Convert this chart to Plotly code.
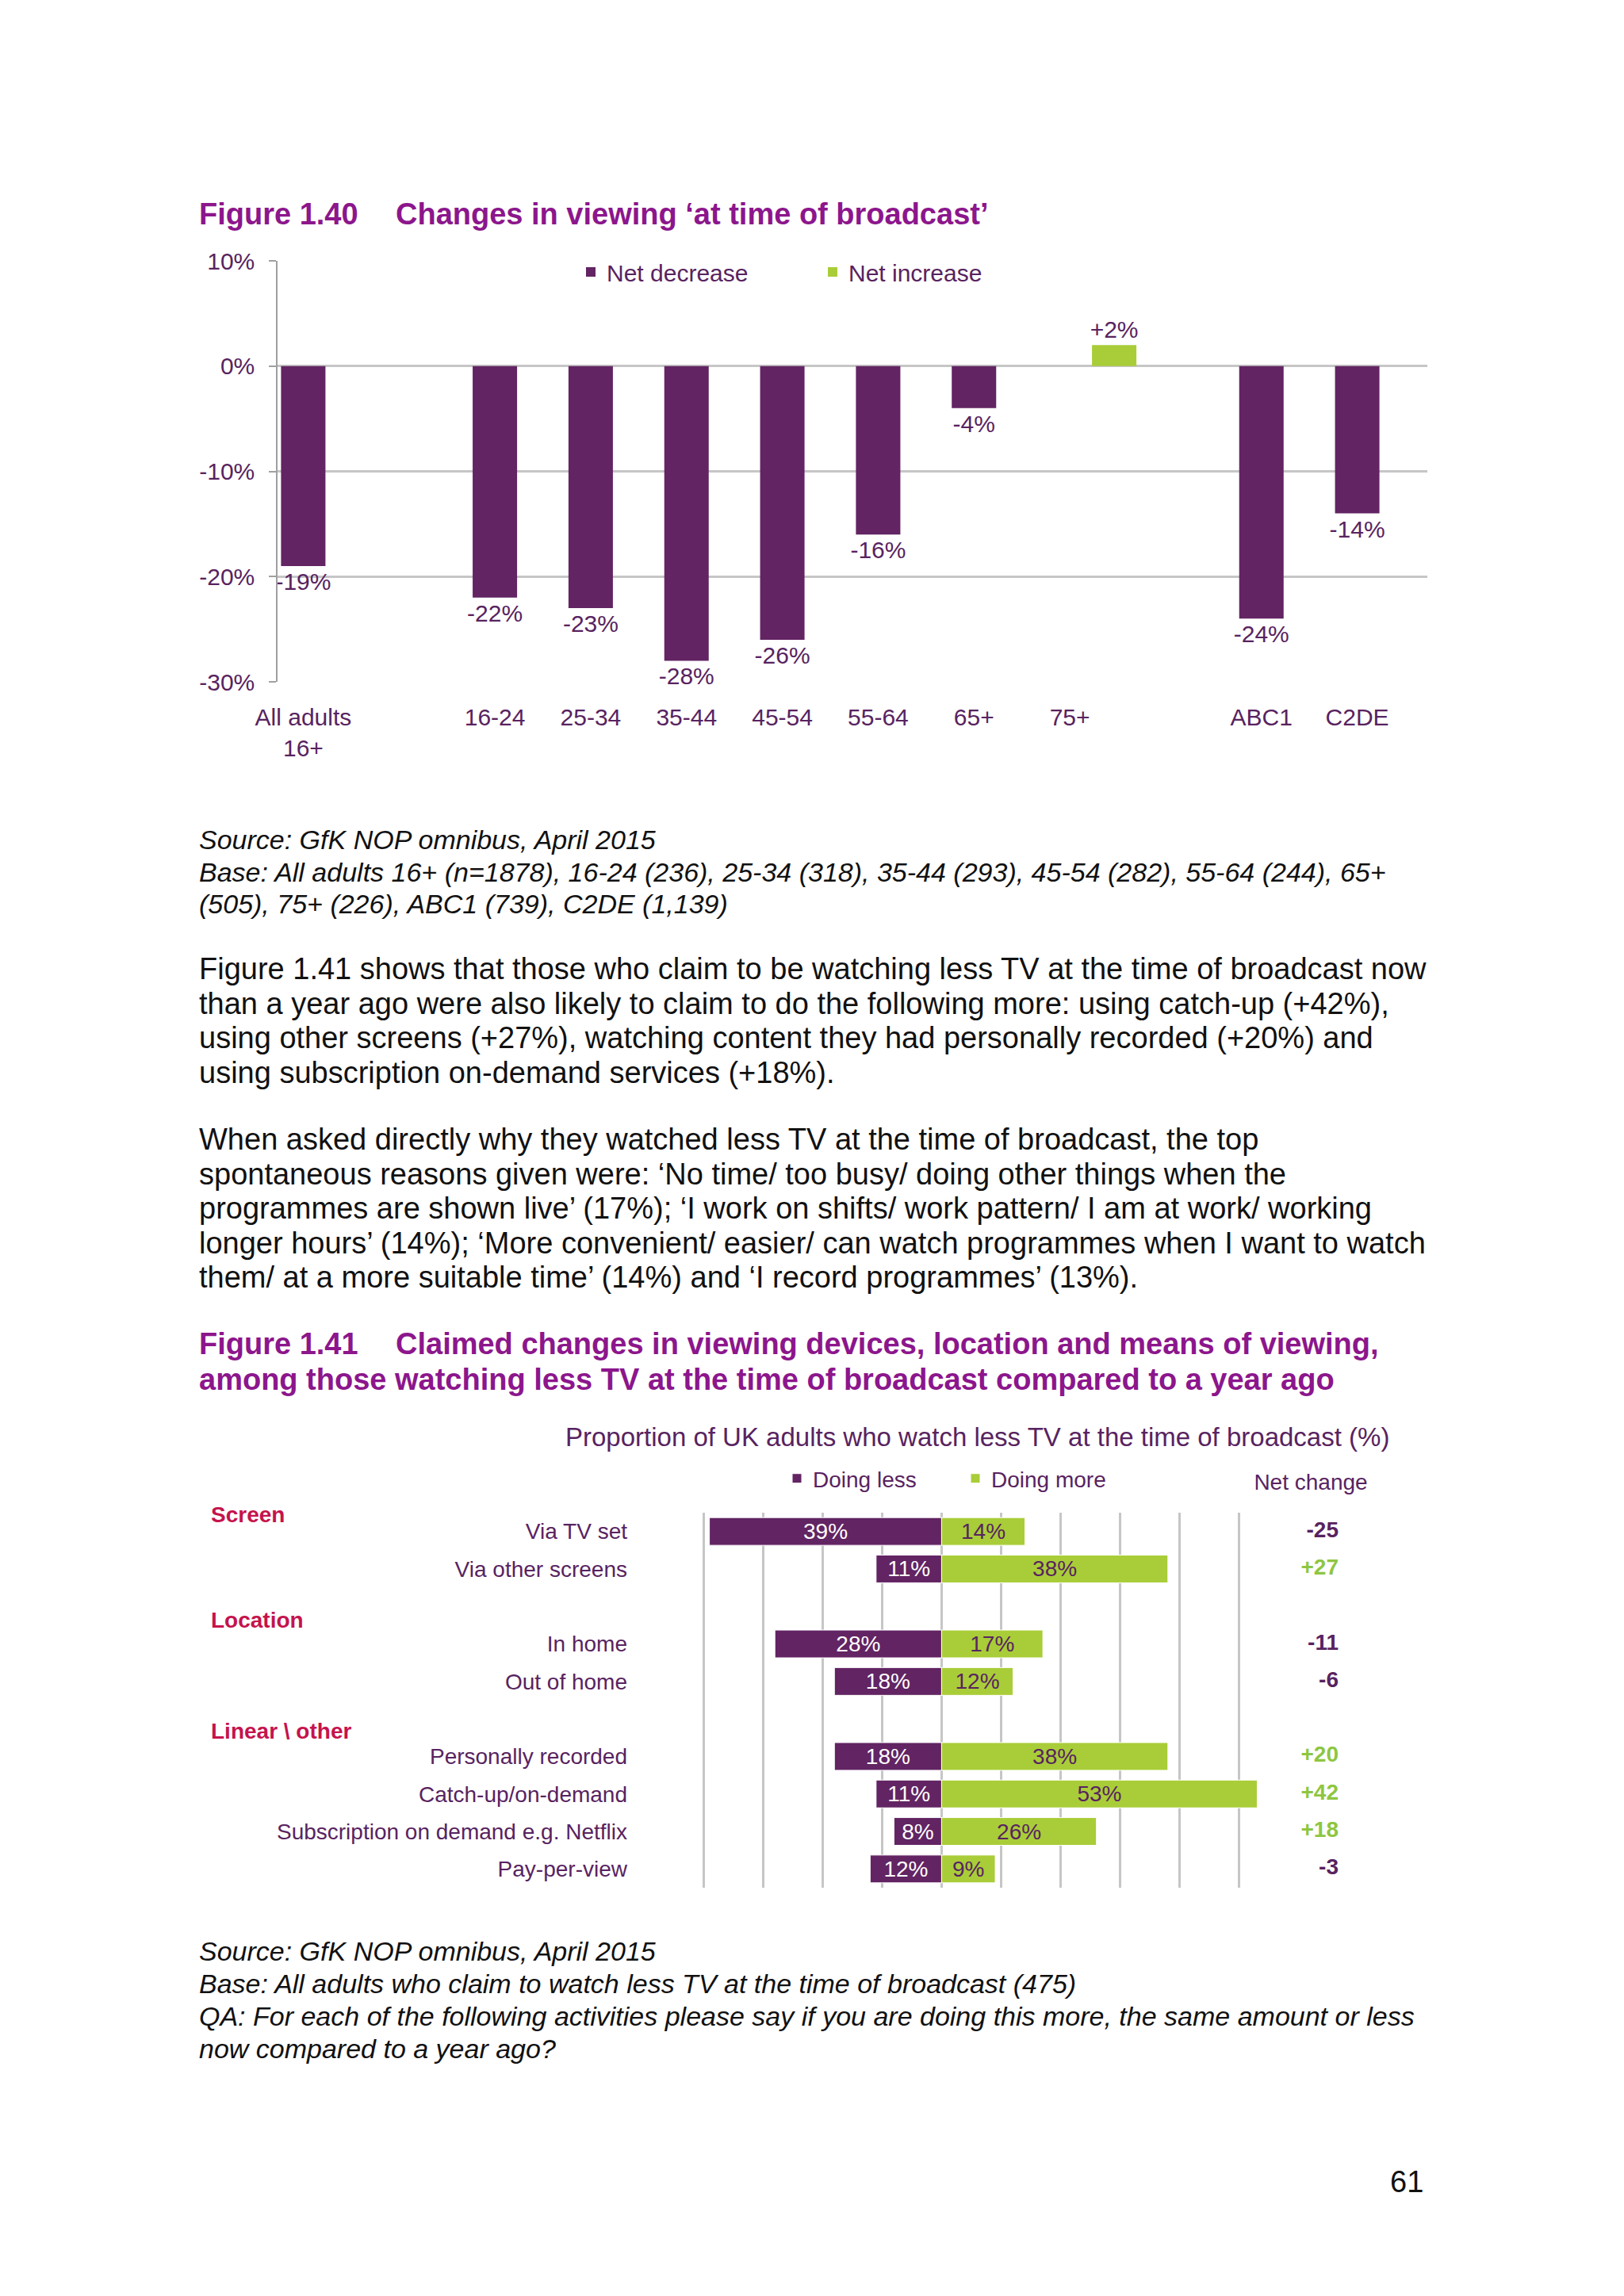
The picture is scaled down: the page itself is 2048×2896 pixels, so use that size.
import plotly.graph_objects as go

W, H = 2048, 2896


def fx(px):
    return px / W


def fy(py):
    return 1 - py / H


FONT = "Liberation Sans, Arial, sans-serif"
PURPLE = "#622463"
GREEN = "#a9cd38"
TXT = "#582360"
TITLE = "#8c168c"
RED = "#c5134d"
GREEN_TXT = "#8ec641"
GRID = "#c6c6c6"

# ---------------- Figure 1.40 data ----------------
groups = ["All adults<br>16+", "16-24", "25-34", "35-44", "45-54", "55-64",
          "65+", "75+", "ABC1", "C2DE"]
net_pct = [-19, -22, -23, -28, -26, -16, -4, 2, -24, -14]
y_ticks = [-30, -20, -10, 0, 10]

# ---------------- Figure 1.41 data ----------------
rows = ["Via TV set", "Via other screens", "In home", "Out of home",
        "Personally recorded", "Catch-up/on-demand",
        "Subscription on demand e.g. Netflix", "Pay-per-view"]
doing_less = [39, 11, 28, 18, 18, 11, 8, 12]
doing_more = [14, 38, 17, 12, 38, 53, 26, 9]
net_change = [-25, 27, -11, -6, 20, 42, 18, -3]
sections = ["Screen", "Location", "Linear \\ other"]

BAR_W = 0.4636  # share of a category slot taken by one series

fig = go.Figure()

# ---- Figure 1.40 bars (clustered: decrease left, increase right) ----
dec = [(g, v) for g, v in zip(groups, net_pct) if v < 0]
inc = [(g, v) for g, v in zip(groups, net_pct) if v >= 0]
fig.add_trace(go.Bar(
    x=[g for g, _ in dec], y=[v for _, v in dec], name="Net decrease",
    marker=dict(color=PURPLE), text=[f"{v:+d}%" for _, v in dec],
    textposition="outside", cliponaxis=False, constraintext="none",
    textfont=dict(family=FONT, size=30, color=TXT),
    width=BAR_W, offset=-BAR_W,
    xaxis="x", yaxis="y", legend="legend"))
fig.add_trace(go.Bar(
    x=[g for g, _ in inc], y=[v for _, v in inc], name="Net increase",
    marker=dict(color=GREEN), text=[f"{v:+d}%" for _, v in inc],
    textposition="outside", cliponaxis=False, constraintext="none",
    textfont=dict(family=FONT, size=30, color=TXT),
    width=BAR_W, offset=0,
    xaxis="x", yaxis="y", legend="legend"))

order1 = [groups[0], " "] + groups[1:8] + ["  "] + groups[8:]

# ---- Figure 1.41 bars ----
fig.add_trace(go.Bar(
    y=rows, x=[-v for v in doing_less], orientation="h", name="Doing less",
    marker=dict(color=PURPLE, line=dict(color="white", width=1)),
    text=[f"{v}%" for v in doing_less], textposition="inside",
    insidetextanchor="middle", constraintext="none", textangle=0,
    textfont=dict(family=FONT, size=28, color="#ffffff"),
    width=0.74, offset=-0.37, xaxis="x2", yaxis="y2", legend="legend2"))
fig.add_trace(go.Bar(
    y=rows, x=doing_more, orientation="h", name="Doing more",
    marker=dict(color=GREEN, line=dict(color="white", width=1)),
    text=[f"{v}%" for v in doing_more], textposition="inside",
    insidetextanchor="middle", constraintext="none", textangle=0,
    textfont=dict(family=FONT, size=28, color=TXT),
    width=0.74, offset=-0.37, xaxis="x2", yaxis="y2", legend="legend2"))
fig.add_trace(go.Scatter(
    x=["Net change"] * len(rows), y=rows, mode="text",
    text=[f"<b>{v:+d}</b>" for v in net_change], textposition="middle left",
    textfont=dict(family=FONT, size=28,
                  color=[GREEN_TXT if v > 0 else TXT for v in net_change]),
    xaxis="x3", yaxis="y2", showlegend=False, cliponaxis=False))

order2 = rows[0:2] + [" "] + rows[2:4] + ["  "] + rows[4:]

# ---- text annotations ----
ann = []


def line(text, x, y, size=38, color="#111111", anchor="left"):
    ann.append(dict(text=text, x=fx(x), y=fy(y), xref="paper", yref="paper",
                    xanchor=anchor, yanchor="middle", showarrow=False,
                    font=dict(family=FONT, size=size, color=color)))


line("<b>Figure 1.40</b>", 249, 270, 38, TITLE)
line("<b>Changes in viewing ‘at time of broadcast’</b>", 497, 270, 38, TITLE)

src1 = ["Source: GfK NOP omnibus, April 2015",
        "Base: All adults 16+ (n=1878), 16-24 (236), 25-34 (318), 35-44 (293), 45-54 (282), 55-64 (244), 65+",
        "(505), 75+ (226), ABC1 (739), C2DE (1,139)"]
for i, t in enumerate(src1):
    line(f"<i>{t}</i>", 249, 1059 + i * 40.5, 34, "#111111")

para1 = ["Figure 1.41 shows that those who claim to be watching less TV at the time of broadcast now",
         "than a year ago were also likely to claim to do the following more: using catch-up (+42%),",
         "using other screens (+27%), watching content they had personally recorded (+20%) and",
         "using subscription on-demand services (+18%)."]
for i, t in enumerate(para1):
    line(t, 249, 1222 + i * 43.6)

para2 = ["When asked directly why they watched less TV at the time of broadcast, the top",
         "spontaneous reasons given were: ‘No time/ too busy/ doing other things when the",
         "programmes are shown live’ (17%); ‘I work on shifts/ work pattern/ I am at work/ working",
         "longer hours’ (14%); ‘More convenient/ easier/ can watch programmes when I want to watch",
         "them/ at a more suitable time’ (14%) and ‘I record programmes’ (13%)."]
for i, t in enumerate(para2):
    line(t, 249, 1437 + i * 43.6)

line("<b>Figure 1.41</b>", 249, 1695, 38, TITLE)
line("<b>Claimed changes in viewing devices, location and means of viewing,</b>", 497, 1695, 38, TITLE)
line("<b>among those watching less TV at the time of broadcast compared to a year ago</b>", 249, 1740, 38, TITLE)

line("Proportion of UK adults who watch less TV at the time of broadcast (%)", 1232, 1812, 33, TXT, "center")

for t, y in zip(sections, [1910, 2043, 2183]):
    line(f"<b>{t}</b>", 264, y, 28, RED)

src2 = ["Source: GfK NOP omnibus, April 2015",
        "Base: All adults who claim to watch less TV at the time of broadcast (475)",
        "QA: For each of the following activities please say if you are doing this more, the same amount or less",
        "now compared to a year ago?"]
for i, t in enumerate(src2):
    line(f"<i>{t}</i>", 249, 2461 + i * 41, 34, "#111111")

line("61", 1797, 2752, 38, "#111111", "right")

fig.update_layout(
    template="none",
    width=W, height=H, autosize=False,
    margin=dict(l=0, r=0, t=0, b=0, pad=0),
    paper_bgcolor="white", plot_bgcolor="rgba(0,0,0,0)",
    font=dict(family=FONT, color=TXT),
    barmode="group", bargap=0.073, bargroupgap=0,
    annotations=ann,
    xaxis=dict(domain=[fx(350), fx(1800)], anchor="y", type="category", automargin=False,
               categoryorder="array", categoryarray=order1, range=[-0.5, 11.5],
               showgrid=False, zeroline=False, showline=False, ticks="",
               tickfont=dict(family=FONT, size=30, color=TXT),
               ticklabelstandoff=24, ticklabelshift=-28),
    yaxis=dict(domain=[fy(860), fy(329)], anchor="x", range=[-30, 10], automargin=False,
               tickmode="array", tickvals=y_ticks, ticktext=[f"{v}%" for v in y_ticks],
               showgrid=True, gridcolor=GRID, gridwidth=3,
               zeroline=False, showline=True, linecolor="#a0a0a0", linewidth=1.5,
               ticks="outside", ticklen=9, tickcolor="#a0a0a0", tickwidth=1.5,
               tickfont=dict(family=FONT, size=30, color=TXT), ticklabelstandoff=12),
    xaxis2=dict(domain=[fx(812), fx(1638)], anchor="y2", range=[-50, 60], dtick=10,
                automargin=False,
                showgrid=True, gridcolor=GRID, gridwidth=3, zeroline=False,
                showline=False, showticklabels=False, ticks=""),
    yaxis2=dict(domain=[fy(2381), fy(1908)], anchor="x2", type="category", automargin=False,
                categoryorder="array", categoryarray=order2, range=[9.5, -0.5],
                showgrid=False, zeroline=False, showline=False, ticks="",
                tickfont=dict(family=FONT, size=28, color=TXT), ticklabelstandoff=20),
    xaxis3=dict(domain=[fx(1668), fx(1708)], anchor="y2", type="category", side="top",
                automargin=False,
                showgrid=False, zeroline=False, showline=False, ticks="",
                tickfont=dict(family=FONT, size=28, color=TXT),
                ticklabelstandoff=22, ticklabelshift=-35),
    legend=dict(orientation="h", x=fx(725), y=fy(343), xanchor="left", yanchor="middle",
                entrywidth=260, bgcolor="rgba(0,0,0,0)", borderwidth=0,
                font=dict(family=FONT, size=30, color=TXT)),
    legend2=dict(orientation="h", x=fx(985), y=fy(1865), xanchor="left", yanchor="middle",
                 entrywidth=180, bgcolor="rgba(0,0,0,0)", borderwidth=0,
                 font=dict(family=FONT, size=28, color=TXT)),
)

fig.write_html("out.html", config={"displayModeBar": False},
               post_script="document.body.style.margin='0';")
